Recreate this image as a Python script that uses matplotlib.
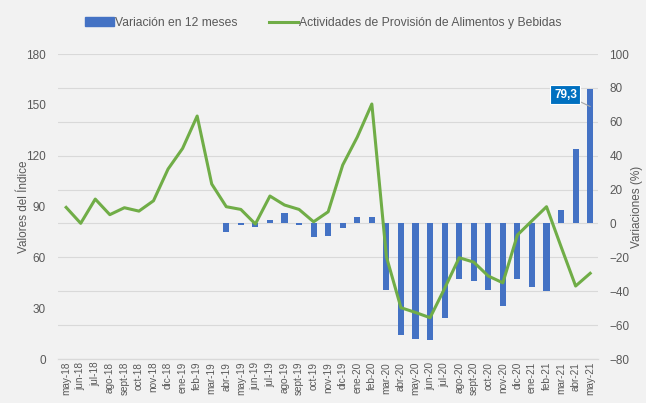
import numpy as np
import matplotlib
matplotlib.use("Agg")
import matplotlib.pyplot as plt
from matplotlib.patches import Patch
from matplotlib.lines import Line2D

plt.rcParams['font.family'] = ['Liberation Sans', 'DejaVu Sans']

meses = ["may-18", "jun-18", "jul-18", "ago-18", "sept-18", "oct-18", "nov-18", "dic-18",
         "ene-19", "feb-19", "mar-19", "abr-19", "may-19", "jun-19", "jul-19", "ago-19",
         "sept-19", "oct-19", "nov-19", "dic-19", "ene-20", "feb-20", "mar-20", "abr-20",
         "may-20", "jun-20", "jul-20", "ago-20", "sept-20", "oct-20", "nov-20", "dic-20",
         "ene-21", "feb-21", "mar-21", "abr-21", "may-21"]

# indice (eje izquierdo)
indice = [89.5, 80.1, 94.4, 85.2, 89.3, 87.3, 93.4, 112.1, 124.3, 143.4, 103.3, 89.9,
          88.3, 79.7, 96.2, 90.9, 88.3, 81.0, 86.9, 114.5, 131.0, 150.5, 60.4, 30.3,
          27.5, 24.4, 41.7, 59.8, 57.2, 49.0, 45.0, 73.2, 81.6, 89.9, 66.3, 43.1, 50.6]

# variacion en 12 meses (eje derecho), desde abr-19
variacion = [np.nan] * 11 + [-4.9, -0.8, -2.0, 2.0, 6.0, -1.0, -7.8, -7.2, -2.5, 4.0, 3.6,
                             -39.0, -66.0, -68.0, -68.5, -55.7, -33.0, -34.2, -39.0, -48.4,
                             -33.0, -37.4, -39.6, 7.8, 44.0, 79.3]

azul = "#4472C4"
verde = "#70AD47"
gris = "#595959"
fondo = "#F2F2F2"

fig = plt.figure(figsize=(6.46, 4.03), dpi=100, facecolor=fondo)
ax = fig.add_axes([0.09, 0.109, 0.836, 0.757])
ax2 = ax.twinx()

x = np.arange(len(meses))

ax2.bar(x, variacion, width=0.42, color=azul, zorder=2)
ax.plot(x, indice, color=verde, lw=2.2, zorder=3)

ax.set_zorder(ax2.get_zorder() + 1)
ax.patch.set_visible(False)
ax2.set_facecolor(fondo)

ax.set_xlim(-0.55, len(meses) - 0.45)
ax.set_ylim(0, 180)
ax.set_yticks(range(0, 181, 30))
ax2.set_ylim(-80, 100)
ax2.set_yticks(range(-80, 101, 20))

ax.set_xticks(x)
ax.set_xticklabels(meses, rotation=90, fontsize=7.2, color=gris)
ax.tick_params(axis='y', labelsize=8.5, colors=gris, length=0, pad=9)
ax.tick_params(axis='x', length=0, pad=2)
ax2.tick_params(axis='y', labelsize=8.5, colors=gris, length=0, pad=8)

ax2.grid(axis='y', color="#D9D9D9", lw=0.8, zorder=0)
ax2.set_axisbelow(True)

for a in (ax, ax2):
    for s in ("top", "left", "right"):
        a.spines[s].set_visible(False)
    a.spines["bottom"].set_color("#D9D9D9")

ax.set_ylabel("Valores del Índice", fontsize=8.5, color=gris, labelpad=-3)
ax2.set_ylabel("Variaciones (%)", fontsize=8.5, color=gris, rotation=90, labelpad=1)

# etiqueta del ultimo dato
ax2.annotate(f"{variacion[-1]:.1f}".replace(".", ","), xy=(36, 69), xytext=(34.3, 76),
             ha="center", va="center", fontsize=8.5, fontweight="bold", color="white",
             bbox=dict(boxstyle="square,pad=0.3", fc="#0070C0", ec="white", lw=0.8),
             arrowprops=dict(arrowstyle="-", color="#A6A6A6", lw=0.8,
                             shrinkA=0, shrinkB=0),
             zorder=5)

handles = [Patch(color=azul), Line2D([0], [0], color=verde, lw=2.2)]
fig.legend(handles, ["Variación en 12 meses", "Actividades de Provisión de Alimentos y Bebidas"],
           loc="upper center", bbox_to_anchor=(0.5, 0.985), ncol=2, frameon=False,
           fontsize=8.7, labelcolor=gris, handlelength=2.4, handletextpad=0.1,
           columnspacing=2.6)

fig.savefig("out.png", dpi=100, facecolor=fondo)
